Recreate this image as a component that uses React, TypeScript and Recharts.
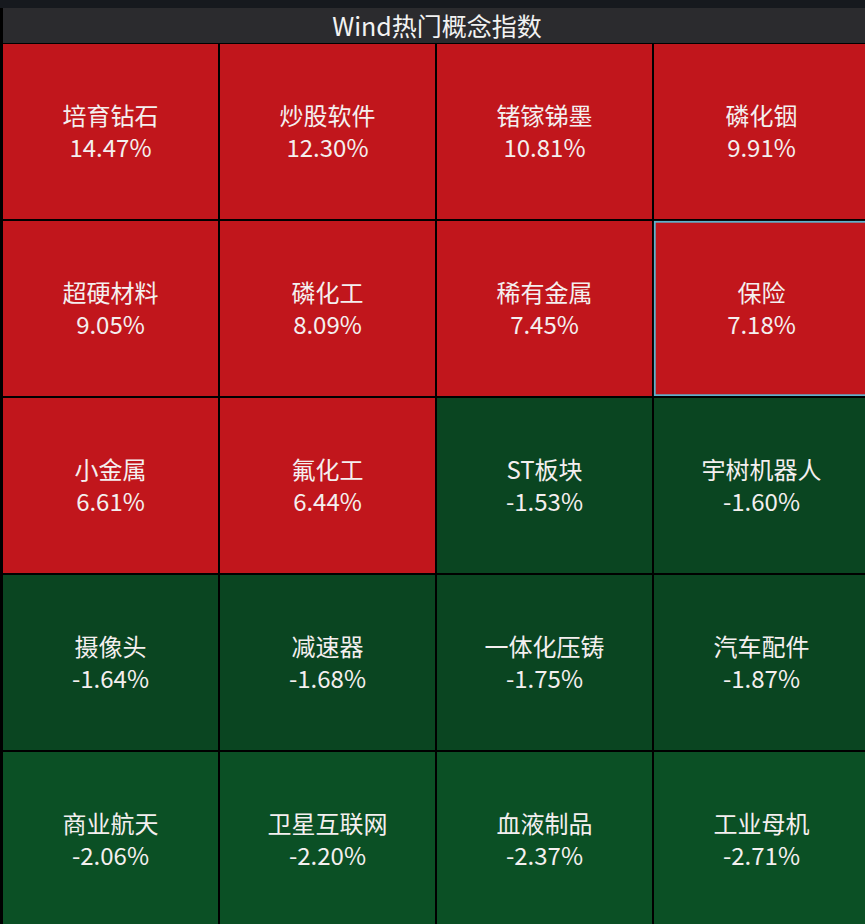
import { BarChart, Bar, XAxis, YAxis } from "recharts";

// tiles, row by row (4 per row)
const concepts = [
  "培育钻石", "炒股软件", "锗镓锑墨", "磷化铟",
  "超硬材料", "磷化工", "稀有金属", "保险",
  "小金属", "氟化工", "ST板块", "宇树机器人",
  "摄像头", "减速器", "一体化压铸", "汽车配件",
  "商业航天", "卫星互联网", "血液制品", "工业母机",
];

const changes = [
  14.47, 12.3, 10.81, 9.91,
  9.05, 8.09, 7.45, 7.18,
  6.61, 6.44, -1.53, -1.6,
  -1.64, -1.68, -1.75, -1.87,
  -2.06, -2.2, -2.37, -2.71,
];

const columns = ["c1", "c2", "c3", "c4"];
const rows = [0, 1, 2, 3, 4];
const selected = "保险";

const data = columns.map((col) => {
  const d: any = { col };
  rows.forEach((r) => (d["r" + r] = 1));
  return d;
});

const tileColor = (v: number) => {
  if (v > 0) return "#c1161c";
  if (v > -2) return "#0a4521";
  return "#0b5025";
};

const fontFamily = "'Noto Sans CJK SC', 'Noto Sans', sans-serif";

function Tile(props: any, row: number) {
  let { x, y, width, height } = props;
  const { index } = props;
  // reversed axis gives negative heights
  if (height < 0) {
    y = y + height;
    height = -height;
  }
  if (width < 0) {
    x = x + width;
    width = -width;
  }
  const i = row * 4 + index;
  const v = changes[i];
  const name = concepts[i];
  const cx = x + width / 2;
  const cy = y + height / 2;
  const isSel = name === selected;
  return (
    <g>
      <rect
        x={x}
        y={y}
        width={width}
        height={height}
        fill={tileColor(v)}
        stroke="#000"
        strokeWidth={2}
      />
      {isSel && (
        <rect
          x={x + 1.8}
          y={y + 1.8}
          width={width - 3.6}
          height={height - 3.6}
          fill="none"
          stroke="#5eb2cc"
          strokeWidth={1.8}
        />
      )}
      <text
        x={cx}
        y={cy - 17}
        textAnchor="middle"
        dominantBaseline="central"
        fill="#f4efef"
        fontSize={24}
        fontFamily={fontFamily}
      >
        {name}
      </text>
      <text
        x={cx}
        y={cy + 15}
        textAnchor="middle"
        dominantBaseline="central"
        fill="#f4efef"
        fontSize={24}
        fontFamily={fontFamily}
      >
        {v.toFixed(2) + "%"}
      </text>
    </g>
  );
}

export default function App() {
  return (
    <div
      style={{
        position: "absolute",
        left: 0,
        top: 0,
        width: 865,
        height: 924,
        overflow: "hidden",
        background: "#000",
      }}
    >
      <div
        style={{
          position: "absolute",
          left: 0,
          top: 0,
          width: 865,
          height: 8,
          background: "#16191e",
        }}
      />
      <div
        style={{
          position: "absolute",
          left: 3,
          top: 8,
          width: 868,
          height: 35,
          background: "#2b2b2e",
          color: "#f2f2f2",
          fontFamily,
          fontSize: 25,
          lineHeight: "35px",
          textAlign: "center",
        }}
      >
        Wind热门概念指数
      </div>

      <div style={{ position: "absolute", left: 2, top: 43 }}>
        <BarChart
          width={868}
          height={885}
          data={data}
          margin={{ top: 0, right: 0, bottom: 0, left: 0 }}
          barCategoryGap={0}
          barGap={0}
        >
          <XAxis dataKey="col" hide />
          <YAxis hide reversed domain={[0, rows.length]} />
          {rows.map((r) => (
            <Bar
              key={r}
              dataKey={"r" + r}
              stackId="grid"
              isAnimationActive={false}
              shape={(p: any) => Tile(p, r)}
            />
          ))}
        </BarChart>
      </div>
    </div>
  );
}
